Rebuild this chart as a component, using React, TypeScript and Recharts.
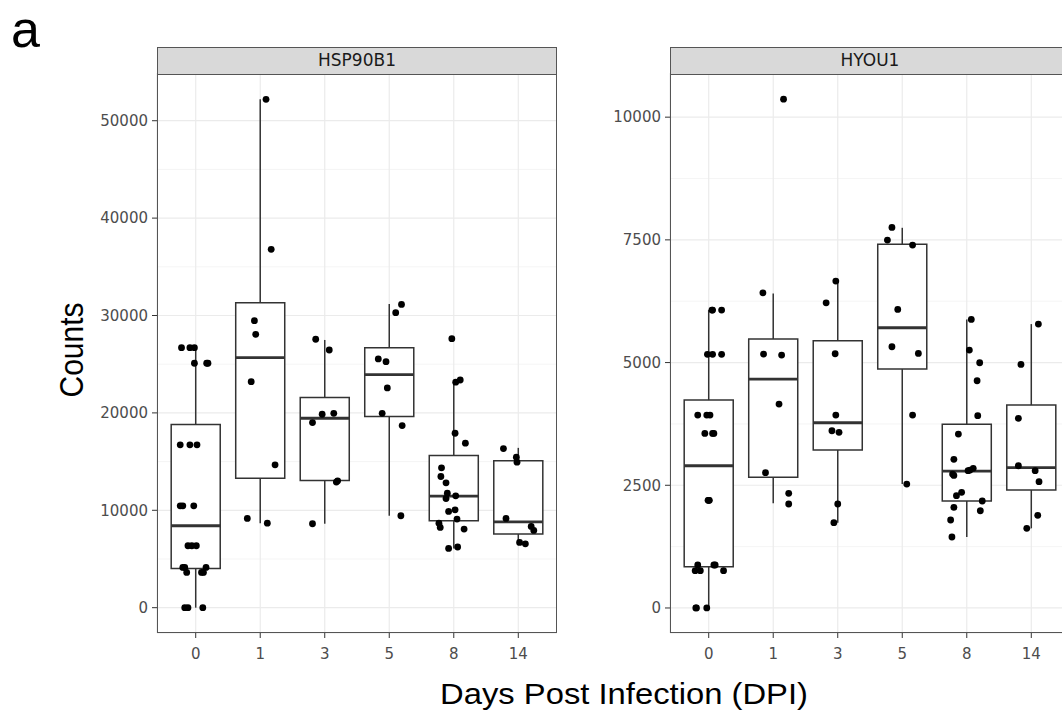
import React from 'react';
import {
  ComposedChart,
  XAxis,
  YAxis,
  CartesianGrid,
  Scatter,
  ReferenceArea,
  ReferenceLine,
} from 'recharts';

const dpiLabels = ['0', '1', '3', '5', '8', '14'];

// box statistics, one value per DPI
const hspLow = [0, 8680, 8620, 9440, 6080, 6560];
const hspQ1 = [4030, 13300, 13060, 19620, 8920, 7560];
const hspMedian = [8410, 25670, 19450, 23930, 11450, 8820];
const hspQ3 = [18800, 31300, 21570, 26700, 15620, 15080];
const hspHigh = [26700, 52200, 27490, 31180, 23380, 16410];

const hyouLow = [0, 2132, 1737, 2525, 1446, 1623];
const hyouQ1 = [841, 2662, 3218, 4868, 2179, 2403];
const hyouMedian = [2898, 4664, 3774, 5709, 2790, 2858];
const hyouQ3 = [4236, 5479, 5444, 7413, 3741, 4134];
const hyouHigh = [6070, 6409, 6660, 7746, 5880, 5784];

// jittered samples: [dpi index, jitter, counts]
type Sample = [number, number, number];

const hspSamples: Sample[] = [
  [0, -0.22, 26700], [0, -0.09, 26700], [0, -0.02, 26700],
  [0, -0.02, 25100], [0, 0.17, 25100], [0, 0.19, 25100],
  [0, -0.24, 16720], [0, -0.09, 16720], [0, 0.02, 16720],
  [0, -0.24, 10460], [0, -0.2, 10460], [0, -0.03, 10460],
  [0, -0.12, 6360], [0, -0.06, 6360], [0, 0.01, 6360],
  [0, -0.2, 4130], [0, -0.17, 4130], [0, 0.16, 4130],
  [0, -0.14, 3620], [0, 0.09, 3620], [0, 0.12, 3620],
  [0, -0.17, 0], [0, -0.12, 0], [0, 0.11, 0],
  [1, 0.09, 52200], [1, 0.17, 36800], [1, -0.09, 29470], [1, -0.07, 28070],
  [1, -0.14, 23210], [1, 0.23, 14670], [1, -0.2, 9160], [1, 0.11, 8680],
  [2, -0.14, 27560], [2, 0.07, 26460], [2, 0.14, 19960], [2, -0.04, 19860],
  [2, -0.19, 19010], [2, 0.2, 13030], [2, 0.18, 12900], [2, -0.19, 8620],
  [3, 0.19, 31140], [3, 0.1, 30290], [3, -0.17, 25540], [3, -0.05, 25260],
  [3, -0.03, 22560], [3, -0.11, 19960], [3, 0.2, 18700], [3, 0.18, 9440],
  [4, -0.03, 27620], [4, 0.1, 23380], [4, 0.03, 23150], [4, 0.02, 17910],
  [4, 0.18, 16890], [4, -0.19, 14360], [4, -0.2, 13470], [4, -0.12, 12820],
  [4, -0.1, 11760], [4, 0.03, 11490], [4, -0.12, 11210], [4, 0.02, 10050],
  [4, -0.08, 9880], [4, 0.05, 9100], [4, -0.23, 8680], [4, -0.21, 8240],
  [4, 0.16, 8070], [4, 0.06, 6230], [4, -0.08, 6080],
  [5, -0.23, 16340], [5, -0.03, 15450], [5, -0.02, 14940], [5, -0.19, 9160],
  [5, 0.2, 8340], [5, 0.24, 7930], [5, 0.02, 6700], [5, 0.11, 6560],
];

const hyouSamples: Sample[] = [
  [0, 0.05, 6070], [0, 0.06, 6070], [0, 0.2, 6070],
  [0, -0.02, 5167], [0, 0.06, 5167], [0, 0.2, 5167],
  [0, -0.17, 3930], [0, -0.03, 3930], [0, 0.02, 3930],
  [0, -0.06, 3557], [0, 0.06, 3557], [0, 0.08, 3557],
  [0, -0.01, 2193], [0, 0, 2193], [0, 0.01, 2193],
  [0, -0.17, 876], [0, 0.08, 876], [0, 0.1, 876],
  [0, -0.21, 760], [0, -0.13, 760], [0, 0.23, 760],
  [0, -0.2, 0], [0, -0.19, 0], [0, -0.03, 0],
  [1, 0.16, 10367], [1, -0.16, 6422], [1, -0.15, 5173], [1, 0.13, 5153],
  [1, 0.09, 4155], [1, -0.12, 2756], [1, 0.24, 2336], [1, 0.24, 2118],
  [2, -0.03, 6660], [2, -0.18, 6218], [2, -0.04, 5180], [2, -0.03, 3931],
  [2, -0.09, 3611], [2, 0.02, 3578], [2, 0, 2118], [2, -0.06, 1737],
  [3, -0.16, 7753], [3, -0.23, 7495], [3, 0.16, 7393], [3, -0.07, 6083],
  [3, -0.16, 5322], [3, 0.25, 5187], [3, 0.16, 3931], [3, 0.07, 2525],
  [4, 0.07, 5880], [4, 0.04, 5255], [4, 0.2, 4996], [4, 0.16, 4630],
  [4, 0.17, 3917], [4, -0.13, 3544], [4, -0.2, 3028], [4, 0.1, 2845],
  [4, 0.05, 2810], [4, 0.02, 2797], [4, -0.22, 2729], [4, -0.2, 2700],
  [4, -0.08, 2356], [4, -0.16, 2288], [4, 0.24, 2179], [4, -0.2, 2050],
  [4, 0.21, 1981], [4, -0.25, 1792], [4, -0.23, 1446],
  [5, 0.11, 5784], [5, -0.16, 4963], [5, -0.2, 3863], [5, -0.2, 2898],
  [5, 0.06, 2797], [5, 0.12, 2573], [5, 0.1, 1888], [5, -0.07, 1623],
];

const hspTicks = [0, 10000, 20000, 30000, 40000, 50000];
const hspMinorTicks = [5000, 15000, 25000, 35000, 45000];
const hyouTicks = [0, 2500, 5000, 7500, 10000];
const hyouMinorTicks = [1250, 3750, 6250, 8750];

const tickFont = { fill: '#4d4d4d', fontSize: 15, fontFamily: 'DejaVu Sans' };
const boxHalf = 0.38;

interface PanelProps {
  title: string;
  plotLeft: number;
  low: number[];
  q1: number[];
  median: number[];
  q3: number[];
  high: number[];
  samples: Sample[];
  domain: [number, number];
  ticks: number[];
  minorTicks: number[];
}

function GenePanel({ title, plotLeft, low, q1, median, q3, high, samples, domain, ticks, minorTicks }: PanelProps) {
  const points = samples.map(([g, dx, v]) => ({ x: g + dx, y: v }));
  return (
    <div style={{ position: 'absolute', left: plotLeft - 60, top: 63, width: 460, height: 610 }}>
      <ComposedChart width={460} height={610} margin={{ top: 10, right: 0, bottom: 0, left: 0 }}>
        <XAxis
          type="number"
          dataKey="x"
          domain={[-0.6, 5.6]}
          ticks={[0, 1, 2, 3, 4, 5]}
          interval={0}
          allowDataOverflow
          tickFormatter={(i: number) => dpiLabels[i]}
          tick={tickFont}
          tickSize={5}
          tickMargin={10}
          tickLine={{ stroke: '#333' }}
          axisLine={false}
          height={40}
        />
        <YAxis
          type="number"
          dataKey="y"
          domain={domain}
          ticks={ticks}
          interval={0}
          allowDataOverflow
          tick={tickFont}
          tickSize={5}
          tickMargin={4}
          tickLine={{ stroke: '#333' }}
          axisLine={false}
          width={60}
        />
        <YAxis yAxisId="minor" type="number" domain={domain} ticks={minorTicks} allowDataOverflow hide />
        <CartesianGrid yAxisId="minor" vertical={false} stroke="#f0f0f0" strokeWidth={0.7} />
        <CartesianGrid stroke="#ebebeb" strokeWidth={1.2} />
        {q1.map((v, i) => (
          <ReferenceArea
            key={`box-${i}`}
            x1={i - boxHalf}
            x2={i + boxHalf}
            y1={v}
            y2={q3[i]}
            fill="#fff"
            fillOpacity={1}
            stroke="#333"
            strokeWidth={1.5}
          />
        ))}
        {q3.map((v, i) => (
          <ReferenceLine key={`wu-${i}`} segment={[{ x: i, y: v }, { x: i, y: high[i] }]} stroke="#333" strokeWidth={1.5} />
        ))}
        {q1.map((v, i) => (
          <ReferenceLine key={`wl-${i}`} segment={[{ x: i, y: low[i] }, { x: i, y: v }]} stroke="#333" strokeWidth={1.5} />
        ))}
        {median.map((v, i) => (
          <ReferenceLine
            key={`med-${i}`}
            segment={[{ x: i - boxHalf, y: v }, { x: i + boxHalf, y: v }]}
            stroke="#333"
            strokeWidth={2.8}
          />
        ))}
        <Scatter
          data={points}
          isAnimationActive={false}
          shape={(p: any) => <circle cx={p.cx} cy={p.cy} r={3.4} fill="#000" />}
        />
      </ComposedChart>
      <div
        style={{
          position: 'absolute',
          left: 60,
          top: 10,
          width: 400,
          height: 560,
          border: '1.5px solid #555',
          boxSizing: 'border-box',
          pointerEvents: 'none',
        }}
      />
      <div
        style={{
          position: 'absolute',
          left: 60,
          top: -16,
          width: 400,
          height: 27.5,
          background: '#d9d9d9',
          border: '1.5px solid #555',
          boxSizing: 'border-box',
          textAlign: 'center',
          fontFamily: 'DejaVu Sans',
          fontSize: 17,
          lineHeight: '24px',
          color: '#1a1a1a',
        }}
      >
        {title}
      </div>
    </div>
  );
}

export default function App() {
  return (
    <div style={{ position: 'absolute', left: 0, top: 0, width: 1062, height: 711, overflow: 'hidden', background: '#fff' }}>
      <svg width={1062} height={711} style={{ position: 'absolute', left: 0, top: 0 }}>
        <text x={11} y={47} fontFamily="Liberation Sans" fontSize={52} fill="#000">a</text>
        <text
          x={0}
          y={0}
          transform="translate(83 350) scale(1.13 1) rotate(-90)"
          textAnchor="middle"
          fontFamily="Liberation Sans"
          fontSize={30}
          fill="#000"
        >
          Counts
        </text>
        <text
          x={0}
          y={0}
          transform="translate(624 704) scale(1.13 1)"
          textAnchor="middle"
          fontFamily="Liberation Sans"
          fontSize={29}
          fill="#000"
        >
          Days Post Infection (DPI)
        </text>
      </svg>
      <GenePanel
        title="HSP90B1"
        plotLeft={157}
        low={hspLow}
        q1={hspQ1}
        median={hspMedian}
        q3={hspQ3}
        high={hspHigh}
        samples={hspSamples}
        domain={[-2600, 54900]}
        ticks={hspTicks}
        minorTicks={hspMinorTicks}
      />
      <GenePanel
        title="HYOU1"
        plotLeft={670}
        low={hyouLow}
        q1={hyouQ1}
        median={hyouMedian}
        q3={hyouQ3}
        high={hyouHigh}
        samples={hyouSamples}
        domain={[-510, 10900]}
        ticks={hyouTicks}
        minorTicks={hyouMinorTicks}
      />
    </div>
  );
}
